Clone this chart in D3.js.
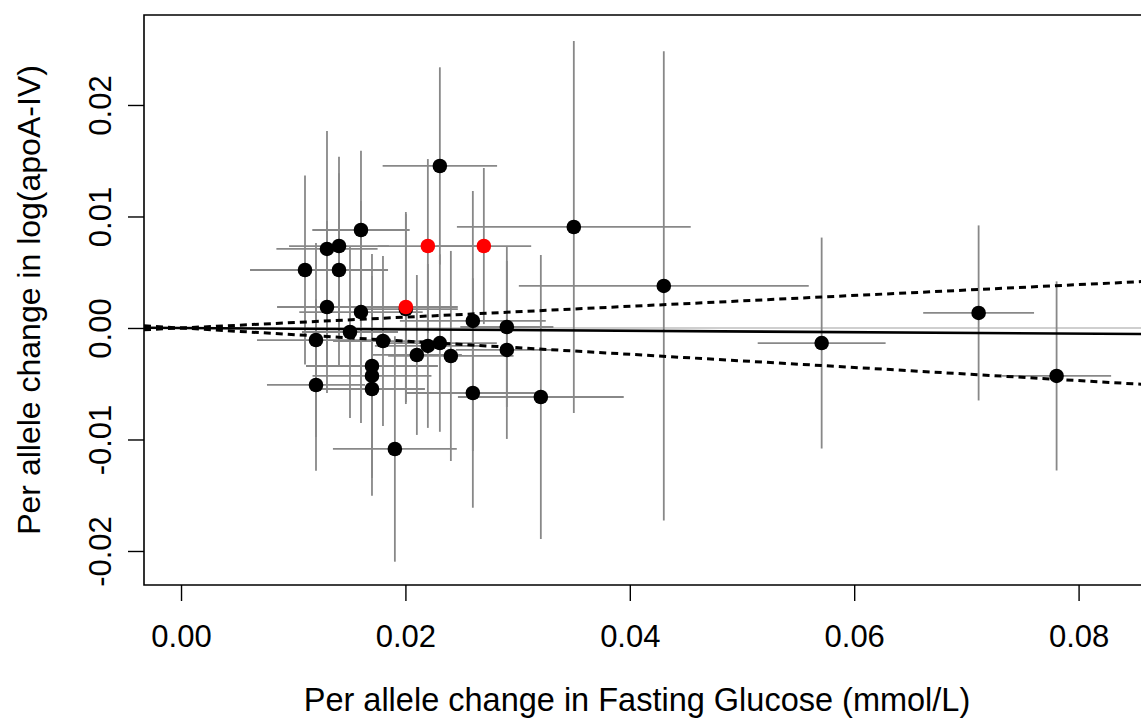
<!DOCTYPE html>
<html>
<head>
<meta charset="utf-8">
<script src="https://cdn.jsdelivr.net/npm/d3@7"></script>
<style>
  html, body { margin: 0; padding: 0; background: #fff; }
  svg { display: block; }
  text { font-family: "Liberation Sans", Arial, sans-serif; fill: #000; }
</style>
</head>
<body>
<svg id="chart" width="1141" height="720"></svg>
<script>
// Per-allele effect on fasting glucose (x) and its 95% CI half-width
const fgBeta = [0.01105, 0.01301, 0.01408, 0.01408, 0.01604, 0.02307, 0.02004, 0.01301, 0.01604, 0.02601,
                0.02904, 0.01506, 0.01203, 0.01800, 0.02200, 0.02307, 0.02904, 0.02102, 0.02405, 0.01702,
                0.01702, 0.01702, 0.01203, 0.02601, 0.03207, 0.01906, 0.03501, 0.04303, 0.05710, 0.07109,
                0.07804, 0.02200, 0.02699, 0.02004];
const fgCI   = [0.00490, 0.00451, 0.00445, 0.00437, 0.00434, 0.00510, 0.00463, 0.00445, 0.00550, 0.00650,
                0.00415, 0.00428, 0.00526, 0.00445, 0.00472, 0.00508, 0.00454, 0.00401, 0.00559, 0.00588,
                0.00530, 0.00472, 0.00437, 0.00602, 0.00739, 0.00552, 0.01042, 0.01292, 0.00570, 0.00494,
                0.00486, 0.00445, 0.00422, 0.00463];
// Per-allele effect on log(apoA-IV) (y) and its 95% CI half-width
const apoBeta = [0.00520, 0.00709, 0.00735, 0.00520, 0.00879, 0.01453, 0.00170, 0.00188, 0.00143, 0.00063,
                 0.00009, -0.00036, -0.00108, -0.00117, -0.00161, -0.00135, -0.00197, -0.00242, -0.00251, -0.00341,
                 -0.00430, -0.00547, -0.00511, -0.00583, -0.00619, -0.01085, 0.00906, 0.00377, -0.00135, 0.00135,
                 -0.00430, 0.00735, 0.00735, 0.00188];
const apoCI  = [0.00848, 0.01058, 0.00801, 0.00867, 0.00711, 0.00885, 0.00852, 0.00771, 0.00996, 0.01166,
                0.00717, 0.00771, 0.00870, 0.00762, 0.00735, 0.00796, 0.00798, 0.00717, 0.00942, 0.01004,
                0.00897, 0.00957, 0.00769, 0.01029, 0.01274, 0.01011, 0.01668, 0.02104, 0.00946, 0.00785,
                0.00848, 0.00780, 0.00700, 0.00852];
// Highlighted variants (red)
const highlight = [false, false, false, false, false, false, false, false, false, false,
                   false, false, false, false, false, false, false, false, false, false,
                   false, false, false, false, false, false, false, false, false, false,
                   false, true, true, true];
// IVW fit through origin and its confidence slopes
const fitSlope = -0.0063;
const ciSlopes = [0.0486, -0.059];

const xTicks = [0.00, 0.02, 0.04, 0.06, 0.08];
const yTicks = [-0.02, -0.01, 0.00, 0.01, 0.02];
const xTitle = "Per allele change in Fasting Glucose (mmol/L)";
const yTitle = "Per allele change in log(apoA-IV)";

const data = fgBeta.map((x, i) => ({x, xc: fgCI[i], y: apoBeta[i], yc: apoCI[i], red: highlight[i]}));
const fmt = v => d3.format(".2f")(v).replace("\u2212", "-");

const svg = d3.select("#chart");
const L = 144, R = 1156, T = 15, B = 585;
const xDom = [-0.0033, 0.0869];
const x = d3.scaleLinear().domain(xDom).range([L, R]);
const y = d3.scaleLinear().domain([-0.02305, 0.02807]).range([B, T]);

const plot = svg.append("g");
plot.append("clipPath").attr("id", "clip")
  .append("rect").attr("x", L).attr("y", T).attr("width", R - L).attr("height", B - T);
const inner = plot.append("g").attr("clip-path", "url(#clip)");

// reference line y = 0
inner.append("line")
  .attr("x1", x(xDom[0])).attr("x2", x(xDom[1]))
  .attr("y1", y(0)).attr("y2", y(0))
  .attr("stroke", "#a0a0a0").attr("stroke-width", 1.2);

// error bars
const eb = inner.append("g").attr("stroke", "#888888").attr("stroke-width", 1.8);
eb.selectAll("line.v").data(data).join("line").attr("class", "v")
  .attr("x1", d => x(d.x)).attr("x2", d => x(d.x))
  .attr("y1", d => y(d.y - d.yc)).attr("y2", d => y(d.y + d.yc));
eb.selectAll("line.h").data(data).join("line").attr("class", "h")
  .attr("x1", d => x(d.x - d.xc)).attr("x2", d => x(d.x + d.xc))
  .attr("y1", d => y(d.y)).attr("y2", d => y(d.y));

// fit lines
const line = d3.line().x(d => x(d[0])).y(d => y(d[1]));
inner.append("path")
  .attr("d", line(xDom.map(v => [v, v * fitSlope])))
  .attr("fill", "none").attr("stroke", "#000").attr("stroke-width", 2.6);
ciSlopes.forEach(s => {
  inner.append("path")
    .attr("d", line(xDom.map(v => [v, v * s])))
    .attr("fill", "none").attr("stroke", "#000").attr("stroke-width", 3)
    .attr("stroke-dasharray", "7,5");
});

// points
inner.selectAll("circle").data(data).join("circle")
  .attr("cx", d => x(d.x)).attr("cy", d => y(d.y)).attr("r", 7.3)
  .attr("fill", d => d.red ? "#ff0000" : "#000");

// box
svg.append("path")
  .attr("d", `M${R},${T}H${L}V${B}H${R}`)
  .attr("fill", "none").attr("stroke", "#000").attr("stroke-width", 1.6);

// x axis
const xAxis = svg.append("g").attr("transform", `translate(0,${B})`)
  .call(d3.axisBottom(x).tickValues(xTicks).tickFormat(fmt).tickSize(16).tickPadding(24));
xAxis.select(".domain").remove();
xAxis.selectAll(".tick line").attr("stroke", "#000").attr("stroke-width", 1.4);
xAxis.selectAll("text").attr("font-size", 31).attr("font-family", "Liberation Sans, Arial, sans-serif");

// y axis
const yAxis = svg.append("g").attr("transform", `translate(${L},0)`)
  .call(d3.axisLeft(y).tickValues(yTicks).tickFormat(fmt).tickSize(16));
yAxis.select(".domain").remove();
yAxis.selectAll(".tick line").attr("stroke", "#000").attr("stroke-width", 1.4);
yAxis.selectAll("text")
  .attr("font-size", 31).attr("font-family", "Liberation Sans, Arial, sans-serif")
  .attr("text-anchor", "middle").attr("x", 0).attr("dy", 0)
  .attr("transform", "translate(-44,0) rotate(-90)")
  .attr("dominant-baseline", "central");

// titles
svg.append("text").attr("x", 637).attr("y", 711).attr("text-anchor", "middle")
  .attr("font-size", 32.5).text(xTitle);
svg.append("text").attr("transform", `translate(40,${(T + B) / 2}) rotate(-90)`)
  .attr("text-anchor", "middle").attr("font-size", 32).text(yTitle);
</script>
</body>
</html>
